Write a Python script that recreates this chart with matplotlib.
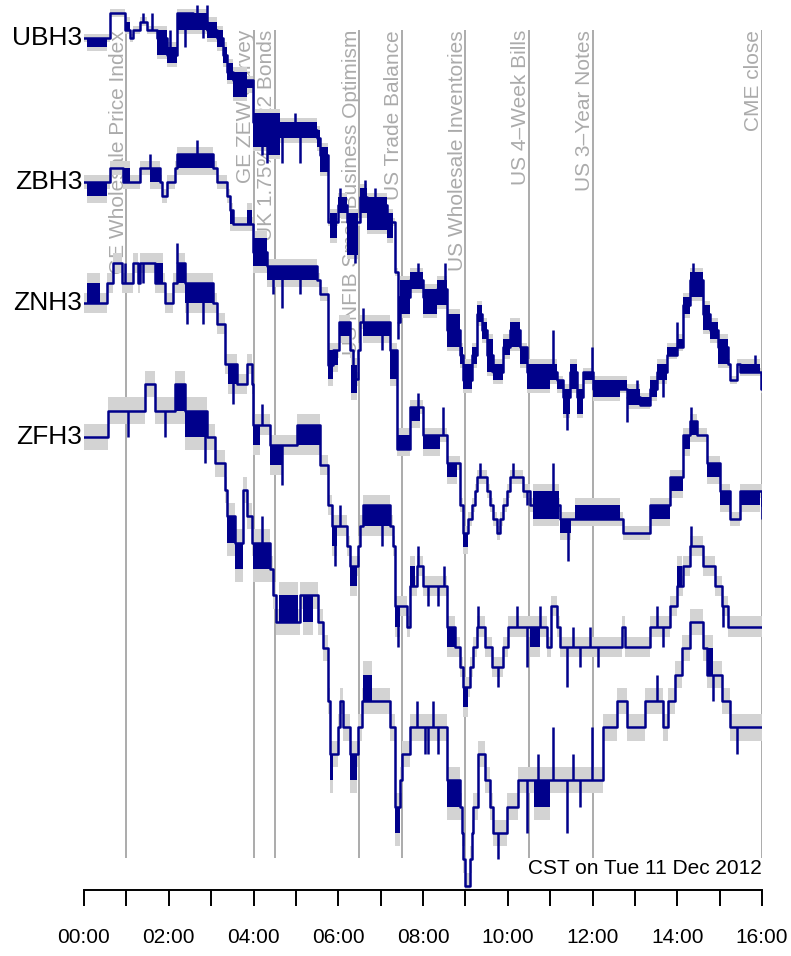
import numpy as np
import matplotlib.pyplot as plt

plt.rcParams['font.family'] = ['Liberation Sans', 'DejaVu Sans']
plt.rcParams['hatch.linewidth'] = 2.2

# Treasury futures, Tue 11 Dec 2012, CST. Prices are in ticks from the open.
# *_hours/*_ticks: trade path (step after each time)
# *_chop: (start, end, low, high) stretches where trades flickered between levels
# *_spikes: (time, level) one-off prints away from the path

ub_hours = [0.00, 0.61, 0.97, 1.09, 1.16, 1.32, 1.49, 1.72, 1.96, 2.19, 2.57, 2.90,
            3.14, 3.28, 3.37, 3.52, 3.99, 4.32, 5.50, 5.57, 5.76, 5.99, 6.21, 6.51,
            6.68, 7.15, 7.34, 7.41, 7.46, 7.69, 8.00, 8.33, 8.57, 8.87, 8.94, 9.16,
            9.27, 9.39, 9.51, 9.65, 9.89, 10.05, 10.29, 10.45, 11.16, 11.30, 11.47,
            11.63, 11.78, 12.01, 12.81, 13.12, 13.36, 13.52, 13.76, 13.99, 14.14,
            14.30, 14.61, 14.77, 14.96, 15.20, 15.25, 15.41, 15.48, 15.97, 16.00]
ub_ticks = [0, 3, 1, 0, 1, 2, 1, 0, -2, 3, 2, 1,
            0, -2, -4, -5, -10, -11, -12, -14, -22, -20, -22, -19,
            -20, -22, -28, -34, -31, -29, -31, -30, -35, -38, -41, -38,
            -33, -35, -38, -40, -37, -35, -37, -40, -41, -43, -40,
            -43, -40, -42, -43, -44, -42, -40, -38, -37, -32,
            -29, -33, -35, -37, -39, -41, -39, -40, -42, -42]
ub_chop = [(0.07, 0.54, -1, 0), (0.97, 1.09, 1, 2), (1.72, 1.96, -2, 1),
           (1.96, 2.19, -3, -1), (2.19, 2.57, 1, 3), (2.57, 2.90, 1, 3),
           (2.90, 3.14, 0, 2), (3.14, 3.28, -1, 1), (3.28, 3.37, -3, -1),
           (3.37, 3.52, -5, -3), (3.52, 3.85, -7, -4), (3.85, 3.99, -6, -5),
           (3.99, 4.32, -13, -9), (4.32, 4.63, -14, -9), (4.63, 5.50, -12, -10),
           (5.50, 5.57, -13, -11), (5.57, 5.76, -16, -13), (5.81, 5.97, -24, -21),
           (5.99, 6.21, -21, -19), (6.21, 6.47, -26, -21), (6.51, 6.68, -21, -18),
           (6.68, 7.15, -23, -19), (7.15, 7.29, -24, -21), (7.46, 7.69, -33, -29),
           (7.69, 8.00, -30, -28), (8.00, 8.33, -33, -30), (8.33, 8.57, -32, -29),
           (8.57, 8.87, -37, -33), (8.87, 8.94, -39, -37), (8.94, 9.16, -42, -39),
           (9.16, 9.27, -39, -37), (9.27, 9.39, -34, -32), (9.39, 9.51, -36, -34),
           (9.51, 9.65, -40, -36), (9.65, 9.89, -41, -39), (9.89, 10.05, -38, -36),
           (10.05, 10.29, -37, -34), (10.29, 10.45, -39, -37), (10.45, 11.00, -42, -39),
           (11.00, 11.16, -41, -39), (11.16, 11.30, -42, -41), (11.30, 11.47, -45, -42),
           (11.47, 11.63, -42, -39), (11.63, 11.78, -45, -42), (11.78, 12.01, -41, -40),
           (12.01, 12.65, -43, -41), (12.65, 12.81, -42, -41), (12.81, 13.12, -44, -42),
           (13.12, 13.36, -44, -43), (13.36, 13.52, -43, -41), (13.52, 13.76, -41, -39),
           (13.76, 13.99, -38, -37), (13.99, 14.14, -37, -36), (14.14, 14.30, -33, -31),
           (14.30, 14.47, -31, -28), (14.47, 14.61, -31, -28), (14.61, 14.77, -35, -32),
           (14.77, 14.96, -36, -34), (14.96, 15.20, -39, -36), (15.48, 15.95, -40, -39)]
ub_spikes = [(1.39, 3), (1.60, 3), (2.03, 1), (2.38, -1), (2.67, 4), (2.81, 0),
             (2.90, 4), (4.20, -14), (4.32, -15), (4.67, -15), (4.98, -9), (5.10, -15),
             (6.04, -18), (6.40, -27), (6.63, -17), (6.87, -18), (7.41, -36), (7.88, -27),
             (8.52, -27), (9.35, -32), (9.63, -40), (10.12, -34), (11.07, -35),
             (11.40, -47), (11.99, -37), (12.81, -46), (13.05, -41), (13.66, -43),
             (13.99, -34), (14.37, -27), (15.83, -38)]

zb_hours = [0.00, 0.61, 0.92, 1.32, 1.79, 1.84, 1.96, 2.15, 2.19, 3.04, 3.14, 3.37,
            3.45, 3.52, 3.99, 4.32, 5.50, 5.57, 5.76, 5.88, 6.01, 6.28, 6.35, 6.47,
            6.51, 7.22, 7.39, 7.69, 8.00, 8.57, 8.87, 8.94, 9.06, 9.16, 9.23, 9.27,
            9.51, 9.58, 9.65, 9.75, 9.82, 9.89, 9.98, 10.05, 10.36, 10.53, 11.23,
            12.72, 13.36, 13.83, 14.14, 14.30, 14.47, 14.70, 15.01, 15.25, 15.48, 16.00]
zb_ticks = [0, 1, 0, 1, 0, -1, 0, 1, 2, 1, 0, -1,
            -2, -3, -5, -6, -7, -8, -13, -12, -10, -12, -14, -12,
            -10, -12, -19, -16, -18, -20, -23, -25, -24, -23, -22, -21,
            -22, -23, -24, -25, -24, -23, -22, -21, -22, -23, -24,
            -25, -23, -21, -18, -17, -18, -20, -22, -24, -22, -23]
zb_chop = [(0.07, 0.54, -1, 0), (0.92, 1.09, 0, 1), (1.56, 1.79, 0, 1),
           (2.19, 3.04, 1, 2), (3.45, 3.52, -3, -2), (3.85, 3.96, -3, -2),
           (3.99, 4.32, -6, -4), (4.32, 5.50, -7, -6), (5.76, 5.88, -14, -12),
           (5.88, 5.99, -13, -12), (6.01, 6.28, -11, -10), (6.30, 6.44, -15, -13),
           (6.58, 7.22, -11, -10), (7.22, 7.39, -14, -12), (7.39, 7.69, -19, -18),
           (7.69, 7.93, -17, -16), (8.00, 8.40, -19, -18), (8.57, 8.80, -21, -20),
           (8.94, 9.06, -26, -25), (10.60, 11.20, -24, -22), (11.23, 11.50, -25, -24),
           (11.59, 12.65, -24, -23), (13.36, 13.83, -24, -23), (13.83, 14.14, -22, -21),
           (14.14, 14.30, -19, -18), (14.30, 14.47, -18, -17), (14.70, 15.01, -21, -20),
           (15.01, 15.25, -23, -22), (15.48, 15.95, -23, -22)]
zb_spikes = [(1.56, 2), (2.67, 3), (4.46, -8), (4.67, -9), (5.10, -8), (6.58, -9),
             (7.03, -12), (7.88, -15), (8.47, -16), (9.35, -20), (10.12, -20),
             (10.45, -23), (11.07, -20), (11.42, -27), (14.32, -16), (15.99, -24)]

zn_hours = [0.00, 0.54, 0.68, 0.90, 1.16, 1.27, 1.32, 1.68, 1.91, 2.10, 2.19, 2.38,
            3.04, 3.14, 3.33, 3.61, 3.85, 3.96, 3.99, 4.39, 5.03, 5.57, 5.76, 5.85,
            6.21, 6.28, 6.47, 6.51, 6.58, 7.22, 7.29, 7.34, 7.62, 7.69, 7.86, 8.00,
            8.57, 8.76, 8.87, 8.94, 9.11, 9.18, 9.27, 9.46, 9.63, 9.89, 10.01, 10.53,
            10.93, 11.02, 11.16, 11.23, 12.70, 12.77, 13.36, 13.83, 13.99, 14.14,
            14.30, 14.61, 14.89, 15.06, 15.20, 16.00]
zn_ticks = [0, 1, 2, 1, 2, 1, 2, 1, 0, 1, 2, 1,
            0, -1, -3, -4, -3, -4, -6, -7, -6, -8, -10, -11,
            -12, -13, -12, -11, -10, -11, -12, -15, -16, -14, -13, -14,
            -16, -17, -18, -19, -18, -17, -16, -17, -18, -17, -16, -16,
            -17, -15, -16, -17, -16, -17, -16, -15, -14, -13,
            -12, -13, -14, -15, -16, -16]
zn_chop = [(0.07, 0.38, 0, 1), (1.68, 1.86, 1, 2), (2.19, 2.38, 1, 2),
           (2.38, 3.04, 0, 1), (3.40, 3.61, -4, -3), (3.99, 4.15, -7, -6),
           (4.39, 4.70, -8, -7), (5.03, 5.57, -7, -6), (5.85, 5.97, -12, -11),
           (6.28, 6.44, -14, -13), (6.58, 7.22, -11, -10), (7.34, 7.46, -16, -15),
           (7.69, 7.81, -14, -13), (8.57, 8.76, -17, -16), (8.94, 9.06, -20, -19),
           (10.53, 10.76, -17, -16), (13.99, 14.11, -14, -13)]
zn_spikes = [(0.97, 2), (1.39, 1), (2.19, 3), (2.43, -1), (2.81, -1), (3.52, -5),
             (4.20, -5), (4.67, -9), (5.92, -13), (6.04, -10), (7.03, -12), (7.41, -17),
             (7.88, -12), (8.12, -15), (8.35, -15), (8.50, -13), (9.30, -15), (9.77, -19),
             (10.22, -15), (10.45, -18), (10.76, -15), (11.40, -19), (11.54, -16),
             (11.70, -18), (11.94, -16), (12.13, -18), (13.52, -15), (13.66, -17),
             (14.32, -11), (15.08, -16)]

zf_hours = [0.00, 0.57, 1.44, 1.68, 2.15, 2.38, 2.90, 3.09, 3.33, 3.37, 3.56, 3.75,
            3.85, 3.96, 4.39, 4.46, 4.53, 5.10, 5.52, 5.64, 5.76, 5.81, 5.99, 6.04,
            6.11, 6.28, 6.47, 6.56, 7.22, 7.34, 7.46, 7.50, 7.69, 8.57, 8.87, 8.92,
            8.94, 8.99, 9.11, 9.16, 9.18, 9.30, 9.46, 9.58, 9.65, 9.98, 10.24, 12.25,
            12.58, 12.81, 13.24, 13.66, 13.78, 13.95, 14.11, 14.30, 14.61, 14.70,
            15.06, 15.25, 16.00]
zf_ticks = [0, 1, 2, 1, 2, 1, 0, -1, -2, -3, -4, -2,
            -3, -4, -5, -6, -7, -6, -7, -8, -10, -12, -11, -10,
            -11, -12, -11, -10, -11, -14, -13, -12, -11, -13, -14, -15,
            -16, -17, -16, -15, -14, -12, -13, -14, -15, -14, -13, -11,
            -10, -11, -10, -11, -10, -9, -8, -7, -8, -9,
            -10, -11, -11]
zf_chop = [(2.15, 2.38, 1, 2), (2.38, 2.90, 0, 1), (3.37, 3.56, -4, -3),
           (3.56, 3.75, -5, -4), (3.99, 4.39, -5, -4), (4.60, 5.05, -7, -6),
           (5.17, 5.40, -7, -6), (5.81, 5.88, -13, -12), (6.28, 6.44, -13, -12),
           (6.58, 6.80, -10, -9), (7.34, 7.46, -15, -14), (8.57, 8.87, -14, -13),
           (10.62, 11.00, -14, -13), (14.70, 14.84, -9, -8)]
zf_spikes = [(1.04, 0), (1.91, 0), (2.86, -1), (4.20, -3), (7.86, -10), (8.05, -12),
             (8.12, -12), (8.24, -10), (8.35, -12), (9.77, -16), (10.45, -15),
             (10.71, -12), (11.07, -11), (11.40, -15), (11.54, -12), (11.70, -14),
             (11.99, -11), (13.52, -9), (14.84, -10), (15.41, -12)]

# scheduled releases / auctions (hours CST)
event_hours = [1.0, 4.0, 4.5, 6.5, 7.5, 9.0, 10.5, 12.0, 16.0]
event_names = ["GE Wholesale Price Index", "GE ZEW Survey", "UK 1.75% 2022 Bonds",
               "US NFIB Small Business Optimism", "US Trade Balance",
               "US Wholesale Inventories", "US 4\u2013Week Bills",
               "US 3\u2013Year Notes", "CME close"]

hour_ticks = np.arange(0, 17, 2)
hour_labels = ["%02d:00" % h for h in hour_ticks]

# vertical placement: row of the open and rows per tick for each contract
series = [
    ("UBH3", ub_hours, ub_ticks, ub_chop, ub_spikes, 38.3, 8.34),
    ("ZBH3", zb_hours, zb_ticks, zb_chop, zb_spikes, 182.0, 14.04),
    ("ZNH3", zn_hours, zn_ticks, zn_chop, zn_spikes, 303.3, 20.2),
    ("ZFH3", zf_hours, zf_ticks, zf_chop, zf_spikes, 437.0, 26.4),
]

W, H = 791, 956
fig = plt.figure(figsize=(W / 100, H / 100), dpi=100)
ax = fig.add_axes([84 / W, 66 / H, 678 / W, 890 / H])
ax.set_xlim(0, 16)
ax.set_ylim(890, 0)

line_col = "#00008B"
band_col = "#D3D3D3"
event_col = "#ABABAB"

# event markers
ax.vlines(event_hours, 858, 30, color=event_col, lw=1.4, zorder=1)
for t, name in zip(event_hours, event_names):
    ax.text(t - 0.06, 30, name, rotation=90, rotation_mode="anchor",
            ha="right", va="baseline", fontsize=15, color=event_col, zorder=1)

for name, hrs, lev, chop, spikes, base, step in series:
    t = np.array(hrs)
    y = base - step * np.array(lev)
    ax.fill_between(t, y - step / 2, y + step / 2, step="post",
                    color=band_col, lw=0, zorder=2)
    for a, b, lo, hi in chop:
        ax.fill_between([a, b], base - step * (hi + 0.5), base - step * (lo - 0.5),
                        color=band_col, lw=0, zorder=2)
    ax.step(t, y, where="post", color=line_col, lw=1.8, zorder=4)
    # flickering quotes: dense vertical strokes between the two levels
    for a, b, lo, hi in chop:
        ax.fill_between([a, b], base - step * hi, base - step * lo,
                        facecolor="none", edgecolor=line_col, hatch="|||||||",
                        lw=0, zorder=4)
    for ts, lv in spikes:
        i = np.searchsorted(t, ts, side="right") - 1
        ax.vlines(ts, y[i], base - step * lv, color=line_col, lw=1.8, zorder=4)
    ax.text(-0.04, base, name, ha="right", va="center", fontsize=19, clip_on=False)

ax.text(16, 868, "CST on Tue 11 Dec 2012", ha="right", va="center", fontsize=15)

for s in ["top", "left", "right"]:
    ax.spines[s].set_visible(False)
ax.spines["bottom"].set_linewidth(1.4)
ax.set_yticks([])
ax.set_xticks(hour_ticks)
ax.set_xticklabels(hour_labels)
ax.set_xticks(np.arange(1, 17, 2), minor=True)
ax.tick_params(axis="x", which="both", direction="out", length=11.5, width=1.4)
ax.tick_params(axis="x", which="major", labelsize=15, pad=16)

fig.savefig("out.png", dpi=100)
